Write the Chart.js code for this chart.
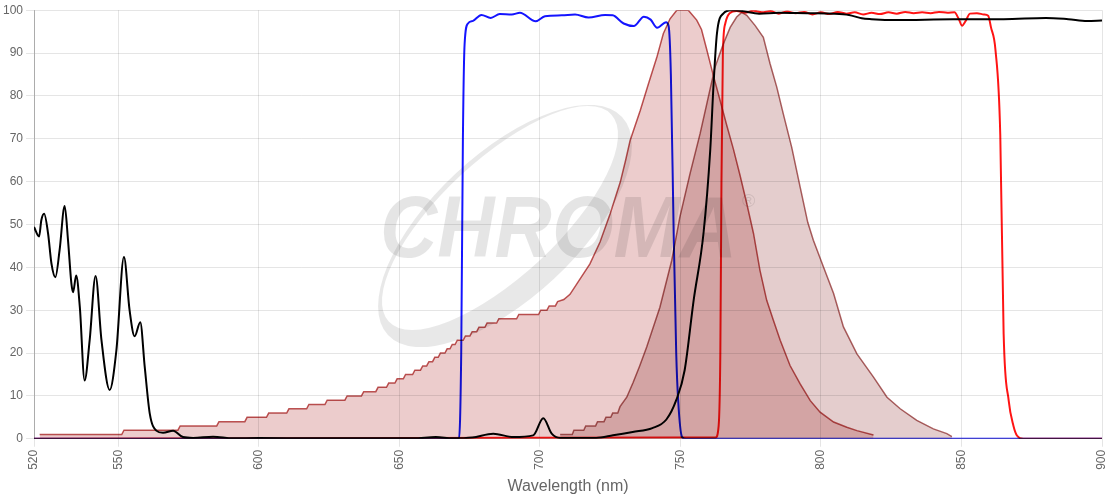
<!DOCTYPE html>
<html>
<head>
<meta charset="utf-8">
<script src="https://cdn.jsdelivr.net/npm/chart.js@4.4.1/dist/chart.umd.min.js"></script>
<style>
  html, body { margin: 0; padding: 0; background: #fff; }
  #wrap { width: 1120px; height: 500px; position: relative; }
</style>
</head>
<body>
<div id="wrap"><canvas id="chart"></canvas></div>
<script>
// x axis tick labels (nm)
const xTickValues = [520, 550, 600, 650, 700, 750, 800, 850, 900];

// black filter (transmission %)
const blackNm = [520, 521.8, 522.6, 523.6, 525.0, 526.2, 527.6, 529.1, 530.9, 532.1, 533.3, 533.9, 535.0, 536.3, 538.0, 539.8, 541.9, 544.0, 546.9, 549.3, 552.0, 554.0, 555.8, 557.8, 559.4, 561.2, 563.5, 565.9, 569.5, 573.0, 576.6, 583.7, 590.8, 600, 620, 640, 655, 663, 669, 676, 683.4, 690.5, 697.6, 701.2, 704.2, 707.2, 720, 726, 733, 740, 745, 748.5, 751.5, 754.7, 758.2, 760.6, 761.8, 763, 765.4, 768, 772, 778, 785, 795, 805, 810, 814.5, 818, 827, 847, 865, 880, 888, 894.7, 900];
const blackPct = [49.4, 47.2, 51.0, 52.5, 47.9, 40.9, 37.7, 44.0, 54.3, 46.3, 36.2, 34.2, 38.1, 30.7, 13.6, 23.0, 38.0, 23.0, 11.4, 20.6, 42.4, 30.0, 23.9, 27.2, 16.7, 5.8, 1.9, 1.4, 1.9, 0.4, 0.2, 0.5, 0.1, 0.2, 0.1, 0.1, 0.1, 0.4, 0.1, 0.3, 1.2, 0.4, 0.8, 4.8, 1.2, 0.2, 0.2, 0.8, 1.6, 2.5, 4.5, 9, 16, 32.3, 47.9, 67.3, 82.9, 94.6, 99.3, 100, 99.8, 99.2, 99.4, 99.3, 99.2, 98.9, 98.1, 97.9, 97.7, 97.9, 97.9, 98.2, 97.9, 97.5, 97.6];

// blue filter
const blueNm = [520, 671.2, 672.0, 672.6, 673.2, 674.4, 676.2, 679.2, 682.5, 685.7, 690, 692.9, 698.5, 701.8, 707.8, 712.5, 717.3, 723.2, 725.9, 729.8, 733.4, 737, 739.4, 741.7, 744.9, 745.8, 746.6, 747.6, 748.5, 749.2, 750.6, 752, 900];
const bluePct = [0, 0, 20, 70, 92, 96.9, 97.5, 98.9, 98.2, 99.1, 99, 99.4, 97.4, 98.6, 98.8, 99, 98.3, 98.9, 98.8, 96.9, 96.3, 98.5, 97.8, 95.9, 97.2, 96.3, 85, 47.9, 20, 8.9, 0.4, 0, 0];

// red filter
const redNm = [520, 762.5, 763.6, 764.2, 764.6, 765.1, 766, 767.5, 770, 773, 776, 779, 782, 785, 788, 791, 794, 797, 800, 803, 806, 809, 812, 815, 818, 821, 824, 827, 830, 833, 836, 839, 842, 845, 847.5, 849, 850.2, 851.5, 853, 855.5, 858, 859.5, 860.5, 862.1, 863.8, 865, 866.8, 868.5, 869.8, 872, 900, 901];
const redPct = [0, 0.3, 3, 20, 60, 90, 97, 99.3, 99.8, 99.4, 99.9, 99.5, 99.8, 99.2, 99.7, 99.3, 99.6, 99.0, 99.5, 99.1, 99.6, 99.2, 99.5, 99.0, 99.4, 99.1, 99.5, 99.2, 99.6, 99.3, 99.5, 99.3, 99.6, 99.4, 99.5, 98.0, 96.4, 97.5, 99.2, 99.3, 99.0, 98.7, 96, 90.7, 71, 24.5, 8.9, 3, 0.7, 0, 0, 100];

// excitation spectrum (stepped data)
const exNm = [522, 551.2, 552, 571.2, 572, 585, 585.8, 595, 595.8, 602.7, 603.5, 609.9, 610.7, 617.0, 617.8, 623.5, 624.3, 630.6, 631.4, 636.5, 637.3, 641.6, 642.4, 645.4, 646.2, 648.4, 649.2, 651.4, 652.2, 654.7, 655.5, 657.5, 658.3, 659.7, 660.5, 661.8, 662.6, 663.8, 664.6, 666.2, 667, 668, 668.8, 669.8, 670.6, 672.7, 673.5, 675.1, 675.9, 677.5, 678.3, 680.4, 681.2, 684.6, 685.4, 691.7, 692.5, 699.5, 700.3, 702.5, 703.3, 705.5, 706.3, 708.5, 710.7, 714.3, 717.8, 721.4, 725, 728.6, 730.5, 732.1, 735.7, 738.6, 741.6, 743.9, 746.3, 748.7, 752.8, 755.8, 757.5, 759.4, 761.7, 764.1, 766.5, 768.8, 771.2, 773.6, 776, 778.3, 780.7, 783.1, 785.5, 789, 792.6, 796.2, 799.7, 804.5, 809.2, 812.8, 818.7];
const exPct = [1, 1, 2, 2, 3, 3, 4, 4, 5, 5, 6, 6, 7, 7, 8, 8, 9, 9, 10, 10, 11, 11, 12, 12, 13, 13, 14, 14, 15, 15, 16, 16, 17, 17, 18, 18, 19, 19, 20, 20, 21, 21, 22, 22, 23, 23, 24, 24, 25, 25, 26, 26, 27, 27, 28, 28, 29, 29, 30, 30, 31, 31, 32, 32.5, 33.7, 37.3, 40.8, 45.9, 52.5, 59.9, 65, 69.6, 76.6, 82.8, 89, 94.5, 98, 100, 100, 97.7, 95.5, 90.7, 84.8, 79.0, 73.1, 67.7, 61.5, 54.9, 47.9, 39.3, 32.3, 27.6, 23.0, 17.1, 12.8, 8.9, 6.2, 3.9, 2.7, 1.9, 0.9];

// emission spectrum
const emNm = [707.2, 711.5, 712.1, 715.6, 716.3, 719.8, 720.5, 722.8, 723.5, 725.2, 725.9, 727.7, 728.5, 730.9, 733.2, 735.5, 738, 742.7, 746.9, 749.8, 753.4, 757, 759.4, 762.3, 765.3, 767.7, 770, 771.8, 773.6, 776.6, 779.5, 781.9, 784.3, 786.6, 789.6, 792.6, 795.3, 797.3, 800.9, 804.5, 808, 812.8, 818.7, 823.5, 828.2, 834.1, 840, 844.8, 846.6];
const emPct = [1, 1, 2, 2, 3, 3, 4, 4, 5, 5, 6, 6, 7.5, 9.7, 13.2, 17, 21.4, 30.7, 41.6, 51.7, 61.8, 71.2, 78.2, 86.7, 92.2, 96, 98.4, 99.5, 98.8, 96.4, 93.7, 87.5, 82, 75.8, 68, 58.7, 50.5, 46.3, 40.1, 33.9, 26.1, 19.8, 14.4, 9.7, 7.0, 4.3, 2.3, 1.2, 0.5];

function zip(xs, ys) {
    const n = Math.min(xs.length, ys.length);
    const out = [];
    for (let i = 0; i < n; i++) out.push({ x: xs[i], y: ys[i] });
    return out;
}

// faint "CHROMA" watermark behind the curves
const logoPlugin = {
    id: 'logo',
    beforeDatasetsDraw(chart) {
        const ctx = chart.ctx;
        ctx.save();
        ctx.fillStyle = 'rgba(0,0,0,0.09)';
        ctx.beginPath();
        ctx.ellipse(505, 226, 160, 72, -0.75, 0, Math.PI * 2);
        ctx.ellipse(500, 218, 152, 58, -0.75, 0, Math.PI * 2);
        ctx.fill('evenodd');

        ctx.font = 'italic bold 88px "Liberation Sans", Arial, sans-serif';
        const w = ctx.measureText('CHROMA').width;
        ctx.translate(380, 257);
        ctx.scale(357 / w, 1);
        ctx.fillStyle = 'rgba(0,0,0,0.1)';
        ctx.fillText('CHROMA', 0, 0);
        ctx.restore();

        ctx.save();
        ctx.font = '18px "Liberation Sans", Arial, sans-serif';
        ctx.fillStyle = 'rgba(0,0,0,0.1)';
        ctx.fillText('®', 742, 207);
        ctx.restore();
    }
};

// overlapping fills darken like the original
const blendPlugin = {
    id: 'blend',
    beforeDatasetsDraw(chart) {
        chart.ctx.save();
        chart.ctx.globalCompositeOperation = 'multiply';
    },
    afterDatasetsDraw(chart) {
        chart.ctx.restore();
    }
};

Chart.defaults.font.family = '"Liberation Sans", Arial, sans-serif';
Chart.defaults.color = '#666';

const ctx = document.getElementById('chart').getContext('2d');
new Chart(ctx, {
    type: 'line',
    data: {
        datasets: [
            {
                label: 'Blue',
                data: zip(blueNm, bluePct),
                borderColor: 'rgb(20,20,255)',
                borderWidth: 2,
                cubicInterpolationMode: 'monotone',
                fill: false
            },
            {
                label: 'Red',
                data: zip(redNm, redPct),
                borderColor: 'rgb(255,20,20)',
                borderWidth: 2,
                cubicInterpolationMode: 'monotone',
                fill: false
            },
            {
                label: 'Black',
                data: zip(blackNm, blackPct),
                borderColor: '#000',
                borderWidth: 2,
                cubicInterpolationMode: 'monotone',
                fill: false
            },
            {
                label: 'Emission',
                data: zip(emNm, emPct),
                borderColor: 'rgb(175,100,100)',
                backgroundColor: 'rgb(228,205,205)',
                borderWidth: 1.5,
                tension: 0,
                fill: 'origin'
            },
            {
                label: 'Excitation',
                data: zip(exNm, exPct),
                borderColor: 'rgb(192,85,85)',
                backgroundColor: 'rgb(236,204,204)',
                borderWidth: 1.5,
                tension: 0,
                fill: 'origin'
            }
        ]
    },
    options: {
        responsive: true,
        maintainAspectRatio: false,
        animation: false,
        parsing: false,
        elements: { point: { radius: 0, hoverRadius: 0 } },
        layout: { padding: { top: 4, right: 18 } },
        plugins: {
            legend: { display: false },
            tooltip: { enabled: false }
        },
        scales: {
            x: {
                type: 'linear',
                min: 520,
                max: 900,
                afterBuildTicks: axis => {
                    axis.ticks = xTickValues.map(v => ({ value: v }));
                },
                ticks: { minRotation: 90, maxRotation: 90, font: { size: 12 } },
                title: { display: true, text: 'Wavelength (nm)', font: { size: 16 } }
            },
            y: {
                min: 0,
                max: 100,
                border: { color: 'rgba(0,0,0,0.25)' },
                ticks: { stepSize: 10, font: { size: 12 } }
            }
        }
    },
    plugins: [logoPlugin, blendPlugin]
});
</script>
</body>
</html>
